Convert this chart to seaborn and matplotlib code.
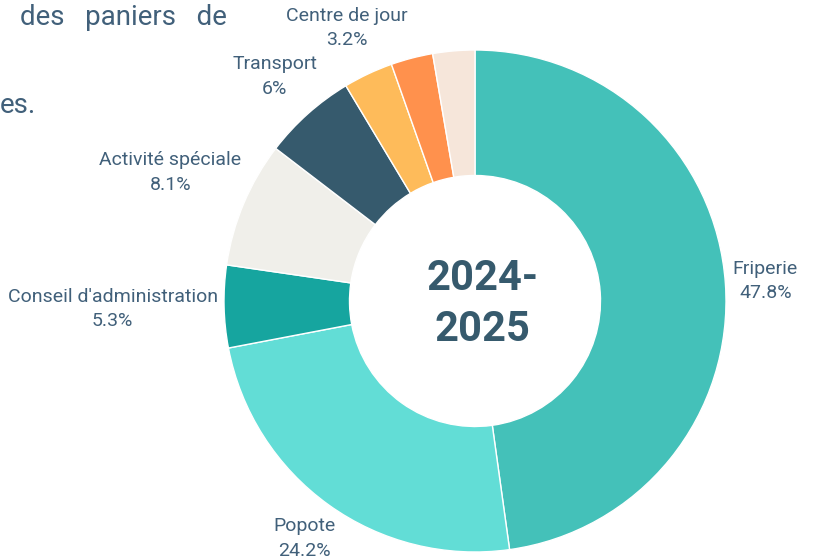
import matplotlib
matplotlib.use("Agg")
import matplotlib.pyplot as plt
import seaborn as sns
import numpy as np

# data (clockwise from 12 o'clock)
categories = ["Friperie", "Popote", "Conseil d'administration", "Activité spéciale",
              "Transport", "Centre de jour", "", ""]
shares = [47.8, 24.2, 5.3, 8.1, 6, 3.2, 2.7, 2.7]
colors = ["#44C1B9", "#62DDD6", "#16A59F", "#F0EFEA", "#365A6D", "#FEBB5A", "#FF914D", "#F6E6DA"]
center_label = "2024-\n2025"

sns.set_theme(style="white")
plt.rcParams['font.family'] = ['Roboto', 'DejaVu Sans']
txt_color = "#41607A"

W, H, DPI = 815, 559, 100
cx, cy, R = 475, 301, 251   # pie center / radius in pixels

fig = plt.figure(figsize=(W / DPI, H / DPI), dpi=DPI)
ax = fig.add_axes([0, 0, 1, 1])

wedges, _ = ax.pie(shares, colors=sns.color_palette(colors), startangle=90, counterclock=False,
                   radius=1, wedgeprops=dict(width=0.5, edgecolor="white", linewidth=1))
ax.set_xlim(-cx / R, (W - cx) / R)
ax.set_ylim(-(H - cy) / R, cy / R)
ax.set_aspect("auto")
ax.axis("off")

# outside labels, centred on the mid-angle, box edge kept at a fixed radius
renderer = fig.canvas.get_renderer()
r0 = 257 / R
for w, name, v in zip(wedges, categories, shares):
    if not name:
        continue
    theta = np.deg2rad((w.theta1 + w.theta2) / 2)
    t = ax.text(0, 0, f"{name}\n{v:g}%", ha="center", va="center", fontsize=14,
                color=txt_color, linespacing=1.45, multialignment="center")
    bb = t.get_window_extent(renderer)
    hw, hh = bb.width / 2 / R, bb.height / 2 / R
    d = r0 + abs(np.cos(theta)) * hw + abs(np.sin(theta)) * hh
    t.set_position((d * np.cos(theta), d * np.sin(theta)))

ax.text(0.03, -0.012, center_label, ha="center", va="center", fontsize=30,
        fontweight="bold", color="#365A6D", linespacing=1.3)

# leftover text from the page around the chart
fig.text(20 / W, 1 - 25 / H, "des   paniers   de", fontsize=20, color=txt_color, va="baseline")
fig.text(0, 1 - 113 / H, "es.", fontsize=20, color=txt_color, va="baseline")

fig.savefig("out.png", dpi=DPI)
